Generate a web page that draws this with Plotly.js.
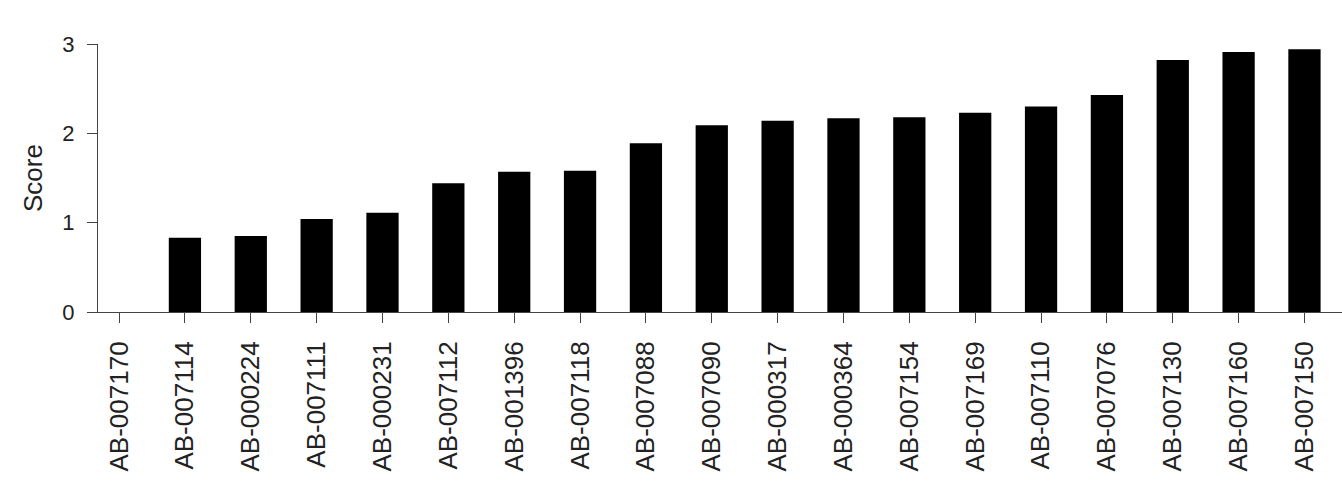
<!DOCTYPE html>
<html>
<head>
<meta charset="utf-8">
<script src="https://cdn.plot.ly/plotly-3.0.1.min.js"></script>
<style>
  html, body { margin: 0; padding: 0; background: #fff; }
  #chart { width: 1342px; height: 482px; }
</style>
</head>
<body>
<div id="chart"></div>
<script>
// compound ids, sorted by score
var compounds = ['AB-007170', 'AB-007114', 'AB-000224', 'AB-007111', 'AB-000231',
  'AB-007112', 'AB-001396', 'AB-007118', 'AB-007088', 'AB-007090', 'AB-000317',
  'AB-000364', 'AB-007154', 'AB-007169', 'AB-007110', 'AB-007076', 'AB-007130',
  'AB-007160', 'AB-007150'];
var scores = [0, 0.83, 0.85, 1.04, 1.11, 1.44, 1.57, 1.58, 1.89, 2.09, 2.14,
  2.17, 2.18, 2.23, 2.30, 2.43, 2.82, 2.91, 2.94];
var yTicks = [0, 1, 2, 3];

var axisColor = '#444';
var fontFamily = '"Liberation Sans", Arial, sans-serif';

var data = [{
  x: compounds,
  y: scores,
  type: 'bar',
  marker: { color: '#000', line: { width: 0 } },
  hoverinfo: 'x+y'
}];

var layout = {
  width: 1342,
  height: 482,
  showlegend: false,
  paper_bgcolor: '#fff',
  plot_bgcolor: '#fff',
  bargap: 0.51,
  margin: { l: 98, r: 0, t: 44, b: 170, autoexpand: false },
  font: { family: fontFamily, color: '#222' },
  xaxis: {
    type: 'category',
    range: [-0.32, 18.57],
    showgrid: false,
    zeroline: false,
    showline: true,
    linecolor: axisColor,
    linewidth: 1,
    ticks: 'outside',
    ticklen: 10,
    tickwidth: 1,
    tickcolor: axisColor,
    tickangle: -90,
    ticklabelstandoff: 8,
    tickfont: { family: fontFamily, size: 26, color: '#222' },
    automargin: false
  },
  yaxis: {
    range: [0, 3],
    tickvals: yTicks,
    ticktext: yTicks.map(String),
    showgrid: false,
    zeroline: false,
    showline: true,
    linecolor: axisColor,
    linewidth: 1,
    ticks: 'outside',
    ticklen: 10,
    tickwidth: 1,
    tickcolor: axisColor,
    ticklabelstandoff: 8,
    tickfont: { family: fontFamily, size: 22, color: '#222' },
    title: { text: 'Score', font: { family: fontFamily, size: 26, color: '#222' }, standoff: 12 },
    automargin: false
  }
};

Plotly.newPlot('chart', data, layout, { staticPlot: true, displayModeBar: false });
</script>
</body>
</html>
